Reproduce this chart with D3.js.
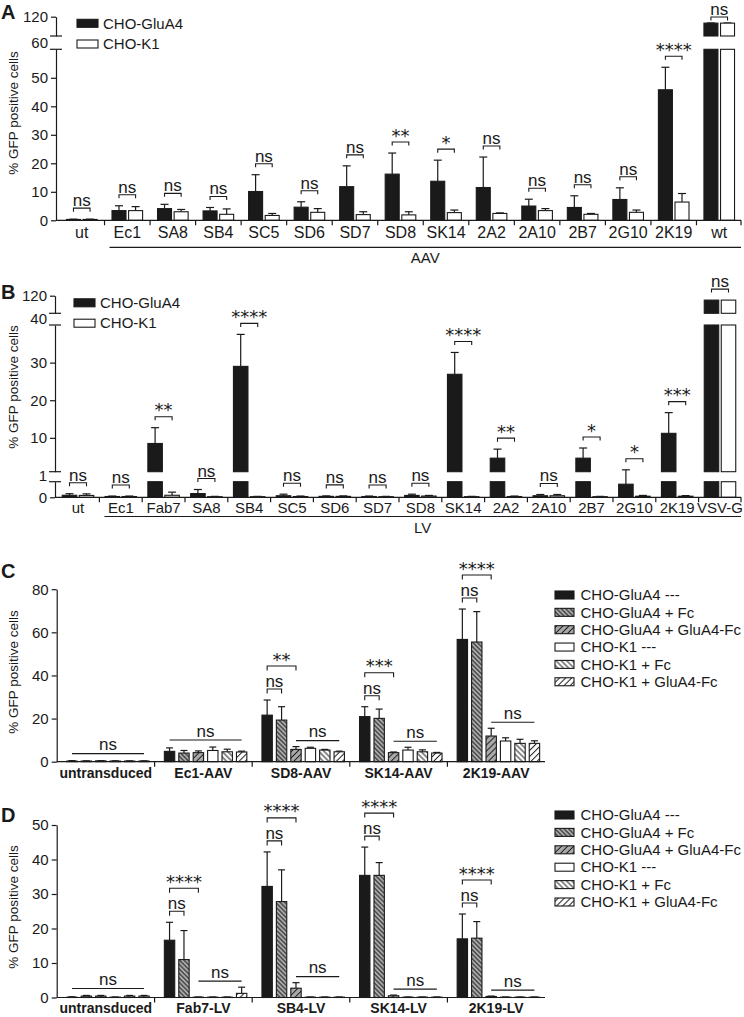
<!DOCTYPE html>
<html><head><meta charset="utf-8">
<script src="https://cdn.jsdelivr.net/npm/d3@7"></script>
<style>
html,body{margin:0;padding:0;background:#fff;}
svg{display:block;}
text{font-family:"Liberation Sans",Arial,Helvetica,sans-serif;fill:#1a1a1a;}
text.star{font-family:"DejaVu Sans",sans-serif;}
</style></head>
<body>
<svg id="fig" width="744" height="1017" xmlns="http://www.w3.org/2000/svg"></svg>
<script>
// ================= DATA =================
// Panel A – AAV
const catsA = ["ut","Ec1","SA8","SB4","SC5","SD6","SD7","SD8","SK14","2A2","2A10","2B7","2G10","2K19","wt"];
const gluA4A    = [0.3,3.4,4.1,3.3,10.1,4.6,11.8,16.2,13.7,11.5,5.0,4.5,7.3,45.8,100];
const gluA4ErrA = [0.1,1.7,1.5,1.2,5.9,1.9,7.3,7.4,7.4,10.7,2.4,4.1,4.1,7.9,0.5];
const k1A       = [0.3,3.4,3.0,2.1,1.7,2.8,2.0,1.9,2.7,2.4,3.4,2.1,2.8,6.4,100];
const k1ErrA    = [0.1,1.4,0.8,1.9,0.7,1.3,1.0,1.1,0.9,0.2,0.7,0.3,0.8,3.0,0.5];
const sigA      = ["ns","ns","ns","ns","ns","ns","ns","**","*","ns","ns","ns","ns","****","ns"];
const ticksA    = [[0,10,20,30,40,50],[120]];

// Panel B – LV
const catsB = ["ut","Ec1","Fab7","SA8","SB4","SC5","SD6","SD7","SD8","SK14","2A2","2A10","2B7","2G10","2K19","VSV-G"];
const gluA4B    = [0.13,0.05,8.5,0.24,29.0,0.1,0.06,0.05,0.12,26.9,4.6,0.1,4.6,0.84,11.2,100];
const gluA4ErrB = [0.1,0.03,4.2,0.26,8.5,0.1,0.03,0.03,0.08,5.8,2.4,0.08,2.7,0.66,5.5,0];
const k1B       = [0.12,0.05,0.13,0.04,0.04,0.05,0.06,0.04,0.08,0.04,0.05,0.1,0.04,0.07,0.07,100];
const k1ErrB    = [0.1,0.03,0.2,0.02,0.02,0.03,0.03,0.02,0.04,0.02,0.03,0.08,0.02,0.05,0.04,0];
const sigB      = ["ns","ns","**","ns","****","ns","ns","ns","ns","****","**","ns","*","*","***","ns"];
const ticksB    = [[0],[10,20,30],[120]];

// Panels C and D – six conditions
const seriesNames = ["CHO-GluA4 ---","CHO-GluA4 + Fc","CHO-GluA4 + GluA4-Fc","CHO-K1 ---","CHO-K1 + Fc","CHO-K1 + GluA4-Fc"];

const groupsC = ["untransduced","Ec1-AAV","SD8-AAV","SK14-AAV","2K19-AAV"];
const cGluA4       = [0.3,4.8,21.6,20.9,56.7];
const cGluA4Err    = [0.2,1.6,7.0,4.6,14.1];
const cGluA4Fc     = [0.3,4.0,19.3,20.1,55.5];
const cGluA4FcErr  = [0.1,1.2,6.2,4.3,14.1];
const cGluA4GFc    = [0.4,4.2,5.7,4.2,11.9];
const cGluA4GFcErr = [0.1,0.8,1.3,0.3,3.6];
const cK1          = [0.3,5.2,6.2,5.4,9.6];
const cK1Err       = [0.1,1.6,0.5,1.3,1.5];
const cK1Fc        = [0.3,4.6,5.4,4.6,8.5];
const cK1FcErr     = [0.1,1.2,0.3,0.9,1.9];
const cK1GFc       = [0.3,4.5,4.6,4.0,8.5];
const cK1GFcErr    = [0.1,0.4,0.3,0.3,1.2];
const sigC = [{all:"ns"},{all:"ns"},{pair:"ns",star:"**",rest:"ns"},{pair:"ns",star:"***",rest:"ns"},{pair:"ns",star:"****",rest:"ns"}];
const ticksC = [0,20,40,60,80];

const groupsD = ["untransduced","Fab7-LV","SB4-LV","SK14-LV","2K19-LV"];
const dGluA4       = [0.1,16.6,32.2,35.4,17.0];
const dGluA4Err    = [0.1,5.2,10.0,8.2,7.2];
const dGluA4Fc     = [0.4,11.0,27.8,35.4,17.2];
const dGluA4FcErr  = [0.2,8.4,9.2,3.7,4.8];
const dGluA4GFc    = [0.4,0.1,2.7,0.5,0.3];
const dGluA4GFcErr = [0.2,0.05,1.6,0.2,0.1];
const dK1          = [0.1,0.1,0.1,0.1,0.1];
const dK1Err       = [0.05,0.05,0.05,0.05,0.05];
const dK1Fc        = [0.4,0.1,0.1,0.1,0.1];
const dK1FcErr     = [0.2,0.05,0.05,0.05,0.05];
const dK1GFc       = [0.4,1.2,0.1,0.1,0.1];
const dK1GFcErr    = [0.2,1.8,0.05,0.05,0.05];
const sigD = [{all:"ns"},{pair:"ns",star:"****",rest:"ns"},{pair:"ns",star:"****",rest:"ns"},{pair:"ns",star:"****",rest:"ns"},{pair:"ns",star:"****",rest:"ns"}];
const ticksD = [0,10,20,30,40,50];

// ================= DRAWING =================
const svg = d3.select("#fig");
const INK = "#1a1a1a";
const GREY = "#ababab";
const defs = svg.append("defs");
function hatch(id, bg, angle, spacing){
  const p = defs.append("pattern").attr("id",id).attr("patternUnits","userSpaceOnUse")
    .attr("width",spacing).attr("height",spacing).attr("patternTransform",`rotate(${angle})`);
  p.append("rect").attr("width",spacing).attr("height",spacing).attr("fill",bg);
  p.append("line").attr("x1",spacing/2).attr("x2",spacing/2).attr("y1",-1).attr("y2",spacing+1)
    .attr("stroke",INK).attr("stroke-width",1);
}
hatch("hFcG", GREY, -45, 3.2);
hatch("hGFcG", GREY, 45, 4.3);
hatch("hFcW", "#fff", -45, 3.8);
hatch("hGFcW", "#fff", 45, 4.3);
const fills6 = [INK,"url(#hFcG)","url(#hGFcG)","#fff","url(#hFcW)","url(#hGFcW)"];

function styleAxis(ga, size){
  ga.attr("font-family",null).attr("font-size",null);
  ga.selectAll("path,line").attr("stroke",INK).attr("stroke-width",1.2);
  ga.selectAll("text").attr("font-size",size).attr("fill",INK);
}
function panelLetter(t, y){
  svg.append("text").attr("x",1).attr("y",y).attr("font-size",20).attr("font-weight","bold").text(t);
}
function yTitle(x, yc){
  svg.append("text").attr("transform",`translate(${x},${yc}) rotate(-90)`)
    .attr("text-anchor","middle").attr("font-size",13.5).text("% GFP positive cells");
}
function sigLabel(g, label, xc, yl){
  if (label === "ns"){
    g.append("text").attr("x",xc).attr("y",yl-2).attr("text-anchor","middle").attr("font-size",17).text("ns");
  } else {
    g.append("text").attr("class","star").attr("x",xc).attr("y",yl-0.5).attr("text-anchor","middle")
      .attr("font-size",18).text(label);
  }
}
function bracket(g, x1, x2, yl, drop){
  g.append("path").attr("d",`M${x1},${yl+drop}V${yl}H${x2}V${yl+drop}`)
    .attr("fill","none").attr("stroke",INK).attr("stroke-width",1.1);
}

// ---------- Panels A & B: two series with broken y axis ----------
function pairPanel(o){
  const g = svg.append("g");
  const x = d3.scaleBand().domain(o.cats).range(o.xRange);
  const sc = o.segs.map(s => d3.scaleLinear().domain(s.d).range(s.r));
  const y = v => { for (let i=0;i<o.segs.length;i++){ if (v <= o.segs[i].d[1] || i===o.segs.length-1) return sc[i](v);} };
  const cx = c => x(c) + x.bandwidth()/2;
  const series = [
    {vals:o.black, errs:o.blackErr, fill:INK, off:-o.gap/2 - o.bw},
    {vals:o.white, errs:o.whiteErr, fill:"#fff", off:o.gap/2}
  ];
  const pieces = [], errs = [];
  series.forEach(s => o.cats.forEach((c,i) => {
    const v = s.vals[i];
    o.segs.forEach((seg,j) => {
      if (v > seg.d[0]) pieces.push({x:cx(c)+s.off, top:sc[j](Math.min(v,seg.d[1])), bot:sc[j](seg.d[0]), fill:s.fill});
    });
    if (s.errs[i] > 0) errs.push({x:cx(c)+s.off+o.bw/2, y0:y(v), y1:y(v+s.errs[i])});
  }));
  g.selectAll("line.err").data(errs).join("line").attr("class","err")
    .attr("x1",d=>d.x).attr("x2",d=>d.x).attr("y1",d=>d.y0).attr("y2",d=>d.y1)
    .attr("stroke",INK).attr("stroke-width",1.2);
  g.selectAll("line.cap").data(errs).join("line").attr("class","cap")
    .attr("x1",d=>d.x-4).attr("x2",d=>d.x+4).attr("y1",d=>d.y1).attr("y2",d=>d.y1)
    .attr("stroke",INK).attr("stroke-width",1.2);
  g.selectAll("rect.bar").data(pieces).join("rect").attr("class","bar")
    .attr("x",d=>d.x).attr("y",d=>d.top).attr("width",o.bw).attr("height",d=>Math.max(0.3,d.bot-d.top))
    .attr("fill",d=>d.fill).attr("stroke",INK).attr("stroke-width",1.1);

  // y axis segments
  o.segs.forEach((seg,j) => {
    const ax = d3.axisLeft(sc[j]).tickValues(o.ticks[j]).tickSize(5).tickSizeOuter(0).tickPadding(3).tickFormat(d3.format("d"));
    const ga = g.append("g").attr("transform",`translate(${o.axisX},0)`).call(ax);
    styleAxis(ga, 15);
  });
  // break marks + their labels
  for (let j=0;j<o.segs.length-1;j++){
    [o.segs[j].r[1], o.segs[j+1].r[0]].forEach(yy => {
      g.append("line").attr("x1",o.axisX-6).attr("x2",o.axisX+6).attr("y1",yy).attr("y2",yy)
        .attr("stroke",INK).attr("stroke-width",1.2);
    });
    g.append("text").attr("x",o.axisX-8).attr("y",o.segs[j].r[1]-6).attr("dy","0.32em")
      .attr("text-anchor","end").attr("font-size",15).text(o.segs[j].d[1]);
  }
  // x axis
  const y0 = y(0);
  g.append("line").attr("x1",o.axisX).attr("x2",o.axisEnd).attr("y1",y0).attr("y2",y0).attr("stroke",INK).attr("stroke-width",1.2);
  const seps = o.cats.slice(1).map(c => x(c)).concat([o.axisEnd]);
  g.selectAll("line.sep").data(seps).join("line").attr("class","sep")
    .attr("x1",d=>d).attr("x2",d=>d).attr("y1",y0).attr("y2",y0+5).attr("stroke",INK).attr("stroke-width",1.2);
  const gx = g.append("g").attr("transform",`translate(0,${y0})`).call(d3.axisBottom(x).tickSize(0).tickPadding(o.labelPad));
  gx.select(".domain").remove();
  styleAxis(gx, o.labelSize);

  // group line
  const gl1 = x(o.cats[1]) + 5;
  g.append("line").attr("x1",gl1).attr("x2",o.axisEnd).attr("y1",o.groupLineY).attr("y2",o.groupLineY).attr("stroke",INK).attr("stroke-width",1.2);
  g.append("text").attr("x",(gl1+o.axisEnd)/2).attr("y",o.groupLineY+o.groupLabelGap).attr("text-anchor","middle").attr("font-size",15).text(o.groupName);

  // significance
  o.cats.forEach((c,i) => {
    const top = Math.min(y(o.black[i]+o.blackErr[i]), y(o.white[i]+o.whiteErr[i]));
    const yl = Math.max(17, top - 11);
    const x1 = cx(c) - o.gap/2 - o.bw/2, x2 = cx(c) + o.gap/2 + o.bw/2;
    bracket(g, x1, x2, yl, 3.5);
    sigLabel(g, o.sig[i], (x1+x2)/2, yl);
  });

  // legend
  const lg = g.append("g");
  [["CHO-GluA4",INK],["CHO-K1","#fff"]].forEach((d,i) => {
    const yy = o.legend.y + i*o.legend.step;
    lg.append("rect").attr("x",o.legend.x).attr("y",yy-4).attr("width",21).attr("height",8)
      .attr("fill",d[1]).attr("stroke",INK).attr("stroke-width",1.1);
    lg.append("text").attr("x",o.legend.x+26).attr("y",yy).attr("dy","0.35em").attr("font-size",15).text(d[0]);
  });
}

pairPanel({
  cats:catsA, black:gluA4A, blackErr:gluA4ErrA, white:k1A, whiteErr:k1ErrA, sig:sigA, ticks:ticksA,
  segs:[{d:[0,60], r:[220.3,49.3]},{d:[60,120], r:[36,16.7]}],
  xRange:[59,742], axisX:56, axisEnd:741, bw:14, gap:2.6, labelPad:6.5, labelSize:16,
  groupLineY:247.3, groupName:"AAV", groupLabelGap:16,
  legend:{x:77, y:23.3, step:20.7}
});
pairPanel({
  cats:catsB, black:gluA4B, blackErr:gluA4ErrB, white:k1B, whiteErr:k1ErrB, sig:sigB, ticks:ticksB,
  segs:[{d:[0,1], r:[497.3,481.7]},{d:[1,40], r:[471.7,325]},{d:[40,120], r:[313.3,295.7]}],
  xRange:[56.6,741.4], axisX:55, axisEnd:741, bw:14.5, gap:2.5, labelPad:5.5, labelSize:15,
  groupLineY:516.5, groupName:"LV", groupLabelGap:16,
  legend:{x:74, y:302.8, step:20.4}
});

// ---------- Panels C & D: six grouped series ----------
function groupPanel(o){
  const g = svg.append("g");
  const xg = d3.scaleBand().domain(o.groups).range(o.xRange);
  const bwG = xg.bandwidth();
  const xi = d3.scaleBand().domain(d3.range(6)).range([bwG*0.1, bwG*0.945]).paddingInner(0.28);
  const y = d3.scaleLinear().domain([0, o.ticks[o.ticks.length-1]]).range(o.yRange);
  const bars = [];
  o.series.forEach((s,k) => o.groups.forEach((grp,i) => {
    bars.push({x:xg(grp)+xi(k), v:s.vals[i], e:s.errs[i], fill:fills6[k]});
  }));
  const bw = xi.bandwidth();
  g.selectAll("line.err").data(bars.filter(d=>d.e>0)).join("line").attr("class","err")
    .attr("x1",d=>d.x+bw/2).attr("x2",d=>d.x+bw/2).attr("y1",d=>y(d.v)).attr("y2",d=>y(d.v+d.e))
    .attr("stroke",INK).attr("stroke-width",1.2);
  g.selectAll("line.cap").data(bars.filter(d=>d.e>0)).join("line").attr("class","cap")
    .attr("x1",d=>d.x+bw/2-3.5).attr("x2",d=>d.x+bw/2+3.5).attr("y1",d=>y(d.v+d.e)).attr("y2",d=>y(d.v+d.e))
    .attr("stroke",INK).attr("stroke-width",1.2);
  g.selectAll("rect.bar").data(bars).join("rect").attr("class","bar")
    .attr("x",d=>d.x).attr("y",d=>y(d.v)).attr("width",bw).attr("height",d=>Math.max(0.3,y(0)-y(d.v)))
    .attr("fill",d=>d.fill).attr("stroke",INK).attr("stroke-width",1.1);

  // axes
  const ga = g.append("g").attr("transform",`translate(${o.axisX},0)`)
    .call(d3.axisLeft(y).tickValues(o.ticks).tickSize(5).tickSizeOuter(0).tickPadding(3));
  styleAxis(ga, 15);
  const y0 = y(0);
  g.append("line").attr("x1",o.axisX).attr("x2",o.xRange[1]).attr("y1",y0).attr("y2",y0).attr("stroke",INK).attr("stroke-width",1.2);
  g.selectAll("line.sep").data(o.groups.slice(1)).join("line").attr("class","sep")
    .attr("x1",d=>xg(d)).attr("x2",d=>xg(d)).attr("y1",y0).attr("y2",y0+5).attr("stroke",INK).attr("stroke-width",1.2);
  const gx = g.append("g").attr("transform",`translate(0,${y0})`).call(d3.axisBottom(xg).tickSize(0).tickPadding(6));
  gx.select(".domain").remove();
  styleAxis(gx, 14);
  gx.selectAll("text").attr("font-weight","bold");

  // significance
  o.groups.forEach((grp,i) => {
    const s = o.sig[i];
    const cxk = k => xg(grp) + xi(k) + bw/2;
    const topk = k => y(o.series[k].vals[i] + o.series[k].errs[i]);
    if (s.all){
      const yl = d3.min(d3.range(6), topk) - 7;
      bracket(g, cxk(0), cxk(5), yl, 0);
      sigLabel(g, s.all, (cxk(0)+cxk(5))/2, yl-1.5);
    } else {
      const yp = Math.min(topk(0), topk(1)) - 11;
      bracket(g, cxk(0), cxk(1), yp, 4.5);
      sigLabel(g, s.pair, (cxk(0)+cxk(1))/2, yp);
      const ys = yp - 23;
      bracket(g, cxk(0), cxk(2), ys, 4.5);
      sigLabel(g, s.star, (cxk(0)+cxk(2))/2, ys);
      const yr = d3.min([2,3,4,5], topk) - 6;
      bracket(g, cxk(2), cxk(5), yr, 0);
      sigLabel(g, s.rest, (cxk(2)+cxk(5))/2, yr-1.5);
    }
  });

  // legend
  const lg = g.append("g");
  seriesNames.forEach((name,k) => {
    const yy = o.legend.y + k*o.legend.step;
    lg.append("rect").attr("x",o.legend.x).attr("y",yy-4).attr("width",19).attr("height",8)
      .attr("fill",fills6[k]).attr("stroke",INK).attr("stroke-width",1.1);
    lg.append("text").attr("x",o.legend.x+25.5).attr("y",yy).attr("dy","0.35em").attr("font-size",15).text(name);
  });
}

groupPanel({
  groups:groupsC, ticks:ticksC, sig:sigC,
  series:[
    {vals:cGluA4, errs:cGluA4Err},{vals:cGluA4Fc, errs:cGluA4FcErr},{vals:cGluA4GFc, errs:cGluA4GFcErr},
    {vals:cK1, errs:cK1Err},{vals:cK1Fc, errs:cK1FcErr},{vals:cK1GFc, errs:cK1GFcErr}
  ],
  xRange:[57,545], yRange:[761.7,589.2], axisX:56.7,
  legend:{x:555, y:595, step:17.35}
});
groupPanel({
  groups:groupsD, ticks:ticksD, sig:sigD,
  series:[
    {vals:dGluA4, errs:dGluA4Err},{vals:dGluA4Fc, errs:dGluA4FcErr},{vals:dGluA4GFc, errs:dGluA4GFcErr},
    {vals:dK1, errs:dK1Err},{vals:dK1Fc, errs:dK1FcErr},{vals:dK1GFc, errs:dK1GFcErr}
  ],
  xRange:[57,545], yRange:[997.5,825], axisX:56.7,
  legend:{x:555, y:815, step:17.4}
});

panelLetter("A", 19);
panelLetter("B", 299);
panelLetter("C", 578);
panelLetter("D", 822);
yTitle(18, 113);
yTitle(18, 387);
yTitle(18, 672);
yTitle(18, 907);
</script>
</body></html>
